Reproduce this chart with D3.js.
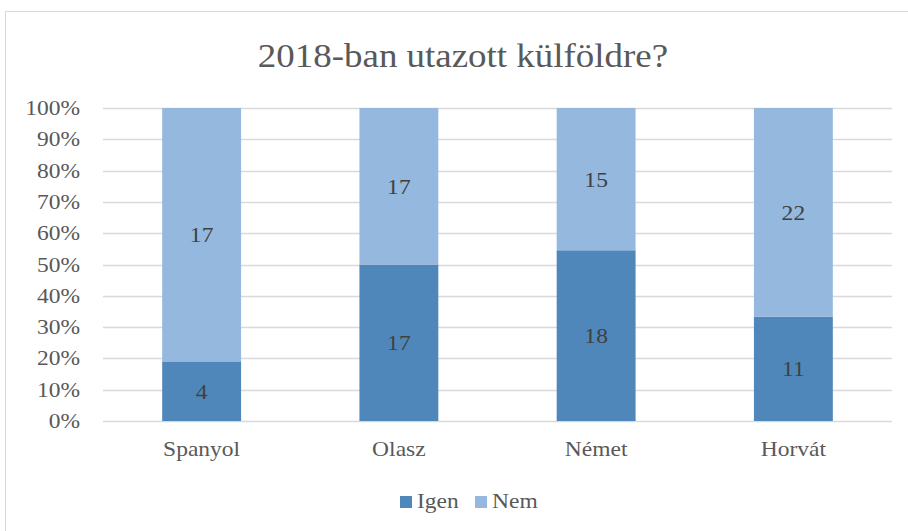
<!DOCTYPE html>
<html>
<head>
<meta charset="utf-8">
<script src="https://cdn.jsdelivr.net/npm/d3@7"></script>
</head>
<body style="margin:0">
<svg id="chart" width="908" height="531"></svg>
<script>
const categories = ["Spanyol", "Olasz", "Német", "Horvát"];
const igen = [4, 17, 18, 11];
const nem = [17, 17, 15, 22];
const yTicks = [0, 0.1, 0.2, 0.3, 0.4, 0.5, 0.6, 0.7, 0.8, 0.9, 1];
const seriesNames = ["Igen", "Nem"];
const colours = ["#4f87ba", "#95b8df"];

// the reference text is a bit wider than it is tall, so stretch it sideways
const stretch = 1.12;
function place(sel, fx, fy) {
  sel.attr("transform", (d, i) => `translate(${fx(d, i)},${fy(d, i)}) scale(${stretch},1)`);
}

const svg = d3.select("#chart");

// chart frame
svg.append("rect")
  .attr("x", 5.5).attr("y", 11.5)
  .attr("width", 920).attr("height", 540)
  .attr("fill", "none").attr("stroke", "#d9d9d9");

const title = svg.append("text")
  .attr("text-anchor", "middle")
  .style("font-family", "Liberation Serif")
  .style("font-size", "33px")
  .style("fill", "#595959")
  .text("2018-ban utazott külföldre?");
place(title, () => 463, () => 67);

const plotLeft = 103, plotRight = 892, plotTop = 108, plotBottom = 421;

const x = d3.scaleBand().domain(categories).range([plotLeft, plotRight]).paddingInner(0.6).paddingOuter(0.3);
const y = d3.scaleLinear().domain([0, 1]).range([plotBottom, plotTop]);

// gridlines
svg.append("g").selectAll("line")
  .data(yTicks)
  .join("line")
  .attr("x1", plotLeft).attr("x2", plotRight)
  .attr("y1", d => Math.round(y(d)) + 0.5)
  .attr("y2", d => Math.round(y(d)) + 0.5)
  .attr("stroke", "#d9d9d9").attr("stroke-width", 1.5);

// y labels
const yLabels = svg.append("g").selectAll("text")
  .data(yTicks)
  .join("text")
  .attr("text-anchor", "end")
  .style("font-family", "Liberation Serif")
  .style("font-size", "21px")
  .style("fill", "#595959")
  .text(d => d3.format(".0%")(d));
place(yLabels, () => 80, d => y(d) + 7);

const rows = categories.map((c, i) => ({ cat: c, Igen: igen[i], Nem: nem[i] }));
const stacked = d3.stack().keys(seriesNames).offset(d3.stackOffsetExpand)(rows);

const layers = svg.append("g").selectAll("g")
  .data(stacked)
  .join("g");

layers.selectAll("rect")
  .data(d => d.map(v => ({ v: v, key: d.key })))
  .join("rect")
  .attr("fill", d => colours[seriesNames.indexOf(d.key)])
  .attr("x", d => x(d.v.data.cat))
  .attr("width", x.bandwidth())
  .attr("y", d => y(d.v[1]))
  .attr("height", d => y(d.v[0]) - y(d.v[1]));

const valueLabels = layers.selectAll("text")
  .data(d => d.map(v => ({ v: v, key: d.key })))
  .join("text")
  .attr("text-anchor", "middle")
  .style("font-family", "Liberation Serif")
  .style("font-size", "21px")
  .style("fill", "#404040")
  .text(d => d.v.data[d.key]);
place(valueLabels, d => x(d.v.data.cat) + x.bandwidth() / 2, d => (y(d.v[0]) + y(d.v[1])) / 2 + 7.5);

// category labels
const catLabels = svg.append("g").selectAll("text")
  .data(categories)
  .join("text")
  .attr("text-anchor", "middle")
  .style("font-family", "Liberation Serif")
  .style("font-size", "21px")
  .style("fill", "#595959")
  .text(d => d);
place(catLabels, d => x(d) + x.bandwidth() / 2, () => 456);

// legend
const legend = svg.append("g").selectAll("g")
  .data(seriesNames)
  .join("g")
  .attr("transform", (d, i) => `translate(${400 + i * 75},0)`);
legend.append("rect")
  .attr("x", 0).attr("y", 496)
  .attr("width", 12).attr("height", 12)
  .attr("fill", (d, i) => colours[i]);
const legendText = legend.append("text")
  .style("font-family", "Liberation Serif")
  .style("font-size", "21px")
  .style("fill", "#595959")
  .text(d => d);
place(legendText, () => 17, () => 508);
</script>
</body>
</html>
